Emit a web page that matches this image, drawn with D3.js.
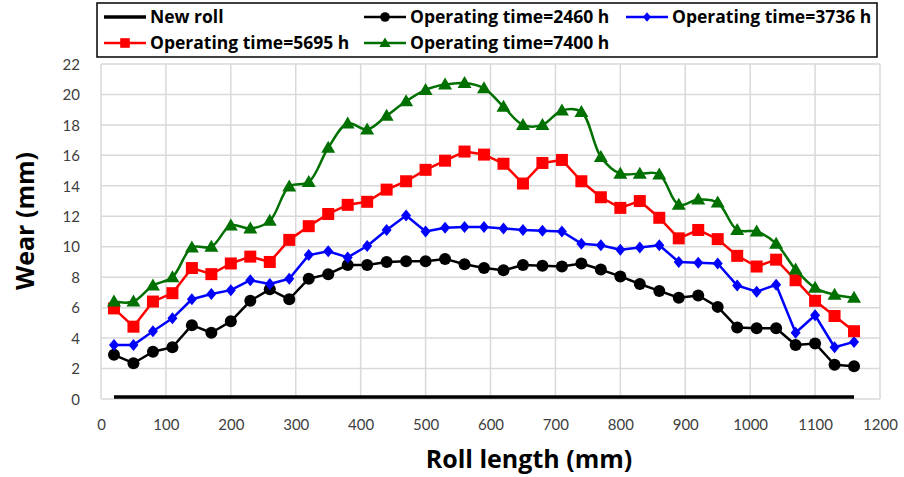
<!DOCTYPE html>
<html>
<head>
<meta charset="utf-8">
<script src="https://cdn.jsdelivr.net/npm/d3@7"></script>
<style>
  body { margin: 0; background: #fff; }
  svg { display: block; font-family: "Open Sans", Lato, sans-serif; }
  .grid line { stroke: #d9d9d9; stroke-width: 1.5; }
  .tick text { fill: #404040; font-size: 15px; font-family: Lato, sans-serif; }
  .legend text { font-size: 17.5px; font-weight: bold; fill: #000; }
</style>
</head>
<body>
<svg width="904" height="477"></svg>
<script>
'use strict';

// Roll length positions (mm)
const rollLength = [20, 50, 80, 110, 140, 170, 200, 230, 260, 290, 320, 350, 380,
  410, 440, 470, 500, 530, 560, 590, 620, 650, 680, 710, 740, 770, 800, 830,
  860, 890, 920, 950, 980, 1010, 1040, 1070, 1100, 1130, 1160];

const newRoll = rollLength.map(() => 0);

const wear2460 = [2.9, 2.35, 3.1, 3.4, 4.85, 4.35, 5.1, 6.45, 7.2, 6.55, 7.9, 8.2,
  8.8, 8.8, 9.0, 9.05, 9.05, 9.2, 8.85, 8.6, 8.45, 8.8, 8.75, 8.7, 8.9, 8.5,
  8.05, 7.55, 7.1, 6.65, 6.8, 6.05, 4.7, 4.65, 4.65, 3.55, 3.65, 2.25, 2.15];

const wear3736 = [3.55, 3.55, 4.45, 5.3, 6.55, 6.9, 7.15, 7.8, 7.55, 7.9, 9.45,
  9.7, 9.3, 10.05, 11.1, 12.05, 11.0, 11.25, 11.3, 11.3, 11.2, 11.1, 11.05, 11.0,
  10.2, 10.1, 9.8, 9.95, 10.1, 9.0, 8.95, 8.9, 7.45, 7.05, 7.5, 4.35, 5.5, 3.4, 3.75];

const wear5695 = [5.95, 4.75, 6.4, 6.95, 8.6, 8.2, 8.9, 9.35, 9.0, 10.45, 11.35,
  12.15, 12.75, 12.95, 13.75, 14.3, 15.05, 15.65, 16.25, 16.05, 15.45, 14.15, 15.5,
  15.7, 14.3, 13.25, 12.55, 13.0, 11.9, 10.55, 11.1, 10.5, 9.4, 8.7, 9.15, 7.8,
  6.45, 5.45, 4.45];

const wear7400 = [6.4, 6.4, 7.45, 8.0, 9.95, 10.0, 11.4, 11.2, 11.7, 13.95, 14.25,
  16.5, 18.1, 17.7, 18.6, 19.55, 20.3, 20.65, 20.75, 20.4, 19.2, 18.0, 18.0, 18.95,
  18.85, 15.9, 14.8, 14.8, 14.75, 12.75, 13.1, 12.9, 11.1, 11.0, 10.2, 8.5, 7.3,
  6.85, 6.65];

const xTicks = d3.range(0, 1201, 100);
const yTicks = d3.range(0, 23, 2);

const series = [
  {name: 'New roll', values: newRoll, color: '#000', marker: null, width: 3.5},
  {name: 'Operating time=2460 h', values: wear2460, color: '#000', marker: 'circle', width: 2.5},
  {name: 'Operating time=3736 h', values: wear3736, color: '#0000ff', marker: 'diamond', width: 2.5},
  {name: 'Operating time=5695 h', values: wear5695, color: '#ff0000', marker: 'square', width: 2.5},
  {name: 'Operating time=7400 h', values: wear7400, color: '#007000', marker: 'triangle', width: 2.5, smooth: true},
];

const svg = d3.select('svg');
const plot = {left: 101, right: 880, top: 64, bottom: 399};

const x = d3.scaleLinear().domain([0, 1200]).range([plot.left, plot.right]);
const y = d3.scaleLinear().domain([0, 22]).range([plot.bottom, plot.top]);

// Grid
const grid = svg.append('g').attr('class', 'grid');
grid.selectAll('line.h')
  .data(yTicks)
  .enter().append('line')
  .attr('x1', plot.left).attr('x2', plot.right)
  .attr('y1', d => y(d)).attr('y2', d => y(d));
grid.selectAll('line.v')
  .data(xTicks)
  .enter().append('line')
  .attr('y1', plot.top).attr('y2', plot.bottom)
  .attr('x1', d => x(d)).attr('x2', d => x(d));

// Axes (labels only)
const xAxis = svg.append('g')
  .attr('transform', `translate(0,${plot.bottom + 17})`)
  .call(d3.axisBottom(x).tickValues(xTicks).tickSize(0).tickFormat(d3.format('d')));
xAxis.select('.domain').remove();

const yAxis = svg.append('g')
  .attr('transform', `translate(${plot.left - 18},0)`)
  .call(d3.axisLeft(y).tickValues(yTicks).tickSize(0));
yAxis.select('.domain').remove();
yAxis.selectAll('text').attr('dy', '0.35em');

// Axis titles
svg.append('text')
  .attr('x', 529)
  .attr('y', 468)
  .attr('text-anchor', 'middle')
  .style('font-size', '25px').style('font-weight', 'bold')
  .text('Roll length (mm)');

svg.append('text')
  .attr('transform', 'translate(34,221) rotate(-90)')
  .attr('text-anchor', 'middle')
  .style('font-size', '25px').style('font-weight', 'bold')
  .text('Wear (mm)');

// Markers
function drawMarker(sel, type, color, k) {
  k = k || 1;
  if (type === 'circle') {
    sel.append('circle').attr('r', 6 * k).attr('fill', color);
  } else if (type === 'diamond') {
    sel.append('path').attr('d', `M0,${-6 * k}L${5 * k},0L0,${6 * k}L${-5 * k},0Z`).attr('fill', color);
  } else if (type === 'square') {
    sel.append('rect').attr('x', -6 * k).attr('y', -6 * k)
      .attr('width', 12 * k).attr('height', 12 * k).attr('fill', color);
  } else if (type === 'triangle') {
    sel.append('path').attr('d', `M0,${-7 * k}L${7 * k},${5 * k}L${-7 * k},${5 * k}Z`).attr('fill', color);
  }
}

// Series
series.forEach(s => {
  const pts = rollLength.map((d, i) => [d, s.values[i]]);
  const line = d3.line()
    .x(d => x(d[0])).y(d => y(d[1]) - (s.marker ? 0 : 2))
    .curve(s.smooth ? d3.curveCatmullRom.alpha(0.5) : d3.curveLinear);

  svg.append('path')
    .datum(pts)
    .attr('fill', 'none')
    .attr('stroke', s.color)
    .attr('stroke-width', s.width)
    .attr('stroke-linejoin', 'round')
    .attr('d', line);

  if (s.marker) {
    svg.append('g').selectAll('g')
      .data(pts)
      .enter().append('g')
      .attr('transform', d => `translate(${x(d[0])},${y(d[1])})`)
      .each(function() { drawMarker(d3.select(this), s.marker, s.color); });
  }
});

// Legend
const legendPos = [
  {x: 104, y: 17}, {x: 364, y: 17}, {x: 626, y: 17},
  {x: 104, y: 43}, {x: 364, y: 43},
];

svg.append('rect')
  .attr('x', 97).attr('y', 3).attr('width', 780).attr('height', 54)
  .attr('fill', '#fff').attr('stroke', '#000').attr('stroke-width', 1.5);

const legend = svg.append('g').attr('class', 'legend');
series.forEach((s, i) => {
  const g = legend.append('g')
    .attr('transform', `translate(${legendPos[i].x},${legendPos[i].y})`);
  g.append('line')
    .attr('x1', 0).attr('x2', 42)
    .attr('stroke', s.color).attr('stroke-width', s.marker ? 2.5 : 3.5);
  if (s.marker) {
    const m = g.append('g').attr('transform', 'translate(21,0)');
    drawMarker(m, s.marker, s.color, 0.8);
  }
  g.append('text')
    .attr('x', 46).attr('dy', '0.35em')
    .text(s.name);
});
</script>
</body>
</html>
